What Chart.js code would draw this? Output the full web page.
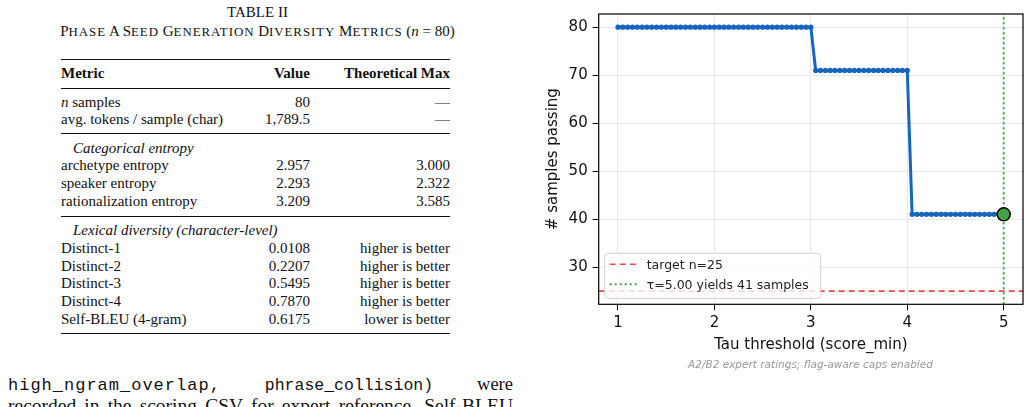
<!DOCTYPE html>
<html lang="en">
<head>
  <meta charset="UTF-8" />
  <title>Tau threshold sweep</title>
  <script src="https://cdn.jsdelivr.net/npm/chart.js"></script>
  <style>
    html, body {
      margin: 0;
      padding: 0;
      width: 1031px;
      height: 407px;
      overflow: hidden;
      background: #fff;
    }

    .page {
      position: relative;
      width: 1031px;
      height: 407px;
      font-family: 'Liberation Serif', 'Times New Roman', serif;
      color: #111;
    }

    .caption-title {
      position: absolute;
      left: 0;
      width: 515px;
      text-align: center;
      font-size: 15px;
      line-height: 18px;
      white-space: nowrap;
    }
    .caption-title .sm { font-size: 12.9px; letter-spacing: 0.95px; }

    .rule {
      position: absolute;
      left: 61px;
      width: 389px;
      height: 0;
      border-top: 1px solid #111;
    }
    .rule.thick { border-top-width: 1.6px; }

    .row {
      position: absolute;
      left: 61px;
      width: 389px;
      height: 18px;
      line-height: 18px;
      font-size: 15px;
    }
    .row span { position: absolute; top: 0; white-space: nowrap; }
    .row .c1 { left: 0; }
    .row .c2 { right: 140px; }
    .row .c3 { right: 0; }
    .row.head { font-weight: bold; }
    .row.group { font-style: italic; }
    .row.group .c1 { left: 12px; }

    .body-line {
      position: absolute;
      left: 8px;
      width: 505px;
      font-size: 18.5px;
      line-height: 22px;
      text-align: justify;
      text-align-last: justify;
      white-space: nowrap;
    }
    .body-line.plain { font-size: 19.5px; }
    .mono { font-family: 'Liberation Mono', 'Courier New', monospace; }
    .mono.w1 { font-size: 17px; letter-spacing: 1px; }
    .mono.w2 { font-size: 16.5px; }

    #chartBox {
      position: absolute;
      left: 540px;
      top: 0;
      width: 491px;
      height: 360px;
    }

    .note {
      position: absolute;
      left: 540px;
      width: 541px;
      top: 358px;
      text-align: center;
      font-family: 'DejaVu Sans', sans-serif;
      font-style: italic;
      font-size: 10.5px;
      color: #999;
    }
  </style>
</head>
<body>
  <div class="page">
    <!-- table II -->
    <div class="caption-title" style="top: 3px;">TABLE II</div>
    <div class="caption-title" id="subtitle" style="top: 22px;"></div>

    <div class="rule thick" style="top: 59px;"></div>
    <div class="row head" style="top: 64px;"><span class="c1">Metric</span><span class="c2">Value</span><span class="c3">Theoretical Max</span></div>
    <div class="rule" style="top: 88px;"></div>
    <div class="row" style="top: 93px;"><span class="c1"><i>n</i> samples</span><span class="c2">80</span><span class="c3">—</span></div>
    <div class="row" style="top: 110px;"><span class="c1">avg. tokens / sample (char)</span><span class="c2">1,789.5</span><span class="c3">—</span></div>
    <div class="rule" style="top: 133px;"></div>
    <div class="row group" style="top: 139px;"><span class="c1">Categorical entropy</span></div>
    <div class="row" style="top: 156px;"><span class="c1">archetype entropy</span><span class="c2">2.957</span><span class="c3">3.000</span></div>
    <div class="row" style="top: 174px;"><span class="c1">speaker entropy</span><span class="c2">2.293</span><span class="c3">2.322</span></div>
    <div class="row" style="top: 192px;"><span class="c1">rationalization entropy</span><span class="c2">3.209</span><span class="c3">3.585</span></div>
    <div class="rule" style="top: 216px;"></div>
    <div class="row group" style="top: 221px;"><span class="c1">Lexical diversity (character-level)</span></div>
    <div class="row" style="top: 239px;"><span class="c1">Distinct-1</span><span class="c2">0.0108</span><span class="c3">higher is better</span></div>
    <div class="row" style="top: 257px;"><span class="c1">Distinct-2</span><span class="c2">0.2207</span><span class="c3">higher is better</span></div>
    <div class="row" style="top: 274px;"><span class="c1">Distinct-3</span><span class="c2">0.5495</span><span class="c3">higher is better</span></div>
    <div class="row" style="top: 292px;"><span class="c1">Distinct-4</span><span class="c2">0.7870</span><span class="c3">higher is better</span></div>
    <div class="row" style="top: 310px;"><span class="c1">Self-BLEU (4-gram)</span><span class="c2">0.6175</span><span class="c3">lower is better</span></div>
    <div class="rule thick" style="top: 333px;"></div>

    <!-- running text under the table -->
    <div class="body-line" style="top: 373px;"><span class="mono w1">high_ngram_overlap,</span> <span class="mono w2">phrase_collision)</span> were</div>
    <div class="body-line plain" style="top: 395px;">recorded in the scoring CSV for expert reference. Self-BLEU</div>

    <!-- chart -->
    <div id="chartBox"><canvas id="tauChart"></canvas></div>
    <div class="note">A2/B2 expert ratings; flag-aware caps enabled</div>
  </div>

  <script>
    // tau sweep (score_min) and number of samples passing at each threshold
    const taus = [
      1.00, 1.05, 1.10, 1.15, 1.20, 1.25, 1.30, 1.35, 1.40, 1.45,
      1.50, 1.55, 1.60, 1.65, 1.70, 1.75, 1.80, 1.85, 1.90, 1.95,
      2.00, 2.05, 2.10, 2.15, 2.20, 2.25, 2.30, 2.35, 2.40, 2.45,
      2.50, 2.55, 2.60, 2.65, 2.70, 2.75, 2.80, 2.85, 2.90, 2.95,
      3.00, 3.05, 3.10, 3.15, 3.20, 3.25, 3.30, 3.35, 3.40, 3.45,
      3.50, 3.55, 3.60, 3.65, 3.70, 3.75, 3.80, 3.85, 3.90, 3.95,
      4.00, 4.05, 4.10, 4.15, 4.20, 4.25, 4.30, 4.35, 4.40, 4.45,
      4.50, 4.55, 4.60, 4.65, 4.70, 4.75, 4.80, 4.85, 4.90, 4.95,
      5.00
    ];
    const passing = [
      80, 80, 80, 80, 80, 80, 80, 80, 80, 80,
      80, 80, 80, 80, 80, 80, 80, 80, 80, 80,
      80, 80, 80, 80, 80, 80, 80, 80, 80, 80,
      80, 80, 80, 80, 80, 80, 80, 80, 80, 80,
      80, 71, 71, 71, 71, 71, 71, 71, 71, 71,
      71, 71, 71, 71, 71, 71, 71, 71, 71, 71,
      71, 41, 41, 41, 41, 41, 41, 41, 41, 41,
      41, 41, 41, 41, 41, 41, 41, 41, 41, 41,
      41
    ];
    const targetN = 25;
    const chosenTau = 5.0;
    const chosenCount = 41;

    const xTicks = [1, 2, 3, 4, 5];
    const yTicks = [30, 40, 50, 60, 70, 80];
    const xRange = [0.8, 5.2];
    const yRange = [22.25, 82.75];

    const legendItems = [
      { text: 'target n=25', color: 'rgba(229,57,53,0.9)', dash: [6, 4], width: 1.6 },
      { text: 'τ=5.00 yields 41 samples', color: '#43a047', dash: [2, 3], width: 2 }
    ];

    // table subtitle in small caps (capitals full size, the rest reduced)
    const subtitle = 'Phase A Seed Generation Diversity Metrics';
    document.getElementById('subtitle').innerHTML =
      subtitle.replace(/[a-z]+/g, m => '<span class="sm">' + m.toUpperCase() + '</span>') +
      ' (<i>n</i> = 80)';

    const sweep = taus.map((t, i) => ({ x: t, y: passing[i] }));

    // box around the plot + legend inside lower-left corner
    const framePlugin = {
      id: 'frame',
      afterDraw(chart) {
        const { ctx, chartArea: a } = chart;
        ctx.save();
        ctx.strokeStyle = '#000';
        ctx.lineWidth = 1.2;
        ctx.strokeRect(a.left, a.top, a.right - a.left, a.bottom - a.top);

        const bx = a.left + 6, bw = 216, bh = 45, by = a.bottom - 6 - bh;
        ctx.beginPath();
        ctx.roundRect(bx, by, bw, bh, 3);
        ctx.fillStyle = 'rgba(255,255,255,0.8)';
        ctx.fill();
        ctx.strokeStyle = '#d0d0d0';
        ctx.lineWidth = 1;
        ctx.stroke();

        ctx.font = '12.5px "DejaVu Sans"';
        ctx.textBaseline = 'middle';
        legendItems.forEach((item, i) => {
          const y = by + 11 + i * 20;
          ctx.beginPath();
          ctx.setLineDash(item.dash);
          ctx.strokeStyle = item.color;
          ctx.lineWidth = item.width;
          ctx.moveTo(bx + 5, y);
          ctx.lineTo(bx + 32, y);
          ctx.stroke();
          ctx.setLineDash([]);
          ctx.fillStyle = '#222';
          ctx.fillText(item.text, bx + 42, y + 1);
        });
        ctx.restore();
      }
    };

    new Chart(document.getElementById('tauChart'), {
      type: 'line',
      data: {
        datasets: [
          {
            label: 'chosen',
            data: [{ x: chosenTau, y: chosenCount }],
            showLine: false,
            pointRadius: 6.5,
            pointBackgroundColor: '#43a047',
            pointBorderColor: '#000',
            pointBorderWidth: 1.5,
            order: 0
          },
          {
            label: 'passing',
            data: sweep,
            borderColor: '#1565c0',
            backgroundColor: '#1565c0',
            borderWidth: 3,
            pointRadius: 2.6,
            pointBorderWidth: 0,
            pointBackgroundColor: '#1565c0',
            tension: 0,
            order: 1
          },
          {
            label: 'target',
            data: [{ x: xRange[0], y: targetN }, { x: xRange[1], y: targetN }],
            borderColor: 'rgba(229,57,53,0.9)',
            borderWidth: 1.6,
            borderDash: [6, 4],
            pointRadius: 0,
            order: 2
          },
          {
            label: 'tau',
            data: [{ x: chosenTau, y: yRange[0] }, { x: chosenTau, y: yRange[1] }],
            borderColor: '#43a047',
            borderWidth: 2,
            borderDash: [2, 3],
            pointRadius: 0,
            order: 3
          }
        ]
      },
      options: {
        responsive: true,
        maintainAspectRatio: false,
        animation: false,
        layout: { padding: { left: 0, right: 8, top: 12, bottom: 0 } },
        plugins: {
          legend: { display: false },
          tooltip: { enabled: false }
        },
        scales: {
          x: {
            type: 'linear',
            min: xRange[0],
            max: xRange[1],
            afterBuildTicks: (s) => { s.ticks = xTicks.map(v => ({ value: v })); },
            afterFit: (s) => { s.height = 55.7; },
            grid: { color: '#e8e8e8', tickColor: '#000', tickLength: 6 },
            border: { display: false },
            ticks: { color: '#111', padding: 4, font: { family: 'DejaVu Sans', size: 15 } },
            title: {
              display: true,
              text: 'Tau threshold (score_min)',
              color: '#111',
              font: { family: 'DejaVu Sans', size: 15 },
              padding: { top: 0, bottom: 6 }
            }
          },
          y: {
            min: yRange[0],
            max: yRange[1],
            afterBuildTicks: (s) => { s.ticks = yTicks.map(v => ({ value: v })); },
            afterFit: (s) => { s.width = 58.7; },
            grid: { color: '#e8e8e8', tickColor: '#000', tickLength: 6 },
            border: { display: false },
            ticks: { color: '#111', padding: 5, font: { family: 'DejaVu Sans', size: 15 } },
            title: {
              display: true,
              text: '# samples passing',
              color: '#111',
              font: { family: 'DejaVu Sans', size: 15 },
              padding: { top: 4, bottom: 0 }
            }
          }
        }
      },
      plugins: [framePlugin]
    });
  </script>
</body>
</html>
